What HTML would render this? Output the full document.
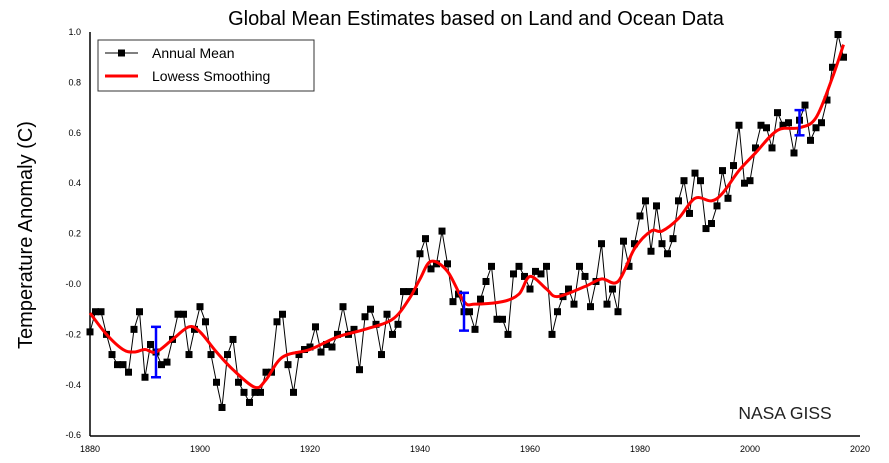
<!DOCTYPE html>
<html><head><meta charset="utf-8"><style>
body{margin:0;background:#fff}
svg{display:block;font-family:"Liberation Sans",sans-serif}
</style></head><body>
<svg id="c" width="889" height="463">
<text x="476" y="25" text-anchor="middle" font-size="20">Global Mean Estimates based on Land and Ocean Data</text>
<text transform="translate(32,235) rotate(-90)" text-anchor="middle" font-size="20">Temperature Anomaly (C)</text>
<text x="785" y="419" text-anchor="middle" font-size="17.5" fill="#222">NASA GISS</text>
<g id="axes"></g>
<g id="marks"></g>
<g>
<rect x="98" y="40" width="216" height="51" fill="#fff" stroke="#333" stroke-width="1"/>
<g>
<line x1="105" y1="53" x2="138" y2="53" stroke="#000"/><rect x="118" y="49.5" width="7" height="7" fill="#000"/>
<text x="152" y="58" font-size="14">Annual Mean</text></g>
<g>
<line x1="105" y1="76" x2="138" y2="76" stroke="#f00" stroke-width="3"/>
<text x="152" y="81" font-size="14">Lowess Smoothing</text></g>
</g>
</svg>
<script>
const years=[];for(let y=1880;y<=2017;y++)years.push(y);
const annualMean=[-0.19,-0.11,-0.11,-0.20,-0.28,-0.32,-0.32,-0.35,-0.18,-0.11,-0.37,-0.24,-0.27,-0.32,-0.31,-0.22,-0.12,-0.12,-0.28,-0.18,
-0.09,-0.15,-0.28,-0.39,-0.49,-0.28,-0.22,-0.39,-0.43,-0.47,-0.43,-0.43,-0.35,-0.35,-0.15,-0.12,-0.32,-0.43,-0.28,-0.26,
-0.25,-0.17,-0.27,-0.24,-0.25,-0.20,-0.09,-0.20,-0.18,-0.34,-0.13,-0.10,-0.16,-0.28,-0.12,-0.20,-0.16,-0.03,-0.03,-0.03,
0.12,0.18,0.06,0.08,0.21,0.08,-0.07,-0.04,-0.11,-0.11,-0.18,-0.06,0.01,0.07,-0.14,-0.14,-0.20,0.04,0.07,0.03,
-0.02,0.05,0.04,0.07,-0.20,-0.11,-0.05,-0.02,-0.08,0.07,0.03,-0.09,0.01,0.16,-0.08,-0.02,-0.11,0.17,0.07,0.16,
0.27,0.33,0.13,0.31,0.16,0.12,0.18,0.33,0.41,0.28,0.44,0.41,0.22,0.24,0.31,0.45,0.34,0.47,0.63,0.40,
0.41,0.54,0.63,0.62,0.54,0.68,0.63,0.64,0.52,0.65,0.71,0.57,0.62,0.64,0.73,0.86,0.99,0.90];
const lowessYears=[1880,1883,1886,1888,1890,1892,1895,1898,1900,1903,1906,1910,1912,1915,1920,1925,1930,1935,1938,1940,1942,1945,1948,1950,1955,1958,1960,1963,1965,1970,1973,1976,1979,1982,1984,1987,1990,1993,1995,1998,2001,2005,2009,2012,2015,2017];
const lowessVals=[-0.115,-0.2,-0.26,-0.27,-0.26,-0.27,-0.22,-0.17,-0.19,-0.27,-0.34,-0.41,-0.38,-0.29,-0.26,-0.21,-0.18,-0.14,-0.06,0.02,0.09,0.05,-0.07,-0.08,-0.07,-0.04,0.03,-0.02,-0.05,-0.01,0.02,0.01,0.14,0.21,0.21,0.26,0.34,0.33,0.36,0.45,0.52,0.61,0.62,0.66,0.82,0.95];
const errYears=[1892,1948,2009];
const errCenters=[-0.27,-0.11,0.64];
const errHalf=[0.10,0.075,0.05];
const yTicks=[1.0,0.8,0.6,0.4,0.2,0.0,-0.2,-0.4,-0.6];
const yTickLabels=["1.0","0.8","0.6","0.4","0.2","-0.0","-0.2","-0.4","-0.6"];
const xTicks=[1880,1900,1920,1940,1960,1980,2000,2020];

const X=y=>90+(y-1880)*5.5;
const Y=v=>284-v*252;
const NS="http://www.w3.org/2000/svg";
function mk(t,a,p){const e=document.createElementNS(NS,t);for(const k in a)e.setAttribute(k,a[k]);p.appendChild(e);return e;}
const ax=document.getElementById('axes'),mg=document.getElementById('marks');
const yl=mk('line',{x1:90,y1:32,x2:90,y2:436,stroke:'#000','stroke-width':1.5},ax);


const xl=mk('line',{x1:90,y1:436,x2:860,y2:436,stroke:'#000','stroke-width':1.5},ax);


yTicks.forEach((v,i)=>{const t=mk('text',{x:81,y:Y(v)+3,'text-anchor':'end','font-size':9},ax);t.textContent=yTickLabels[i];

});
xTicks.forEach(v=>{const t=mk('text',{x:X(v),y:452,'text-anchor':'middle','font-size':9},ax);t.textContent=v;

});
const pl=mk('polyline',{points:years.map((y,i)=>X(y)+','+Y(annualMean[i])).join(' '),fill:'none',stroke:'#000','stroke-width':1},mg);


years.forEach((y,i)=>{const r=mk('rect',{x:X(y)-3.5,y:Y(annualMean[i])-3.5,width:7,height:7,fill:'#000'},mg);

});
const P=lowessYears.map((y,i)=>[X(y),Y(lowessVals[i])]);
let d='M'+P[0];
for(let i=0;i<P.length-1;i++){const p0=P[Math.max(i-1,0)],p1=P[i],p2=P[i+1],p3=P[Math.min(i+2,P.length-1)];
d+=' C'+(p1[0]+(p2[0]-p0[0])/6)+','+(p1[1]+(p2[1]-p0[1])/6)+' '+(p2[0]-(p3[0]-p1[0])/6)+','+(p2[1]-(p3[1]-p1[1])/6)+' '+p2[0]+','+p2[1];}
const lw=mk('path',{d:d,fill:'none',stroke:'#f00','stroke-width':3},mg);


errYears.forEach((y,i)=>{const g=mk('g',{stroke:'#00f','stroke-width':2.5},mg);


const x=X(y),t=Y(errCenters[i]+errHalf[i]),b=Y(errCenters[i]-errHalf[i]);
mk('line',{x1:x,y1:t,x2:x,y2:b},g);mk('line',{x1:x-5,y1:t,x2:x+5,y2:t},g);mk('line',{x1:x-5,y1:b,x2:x+5,y2:b},g);});
</script>
</body></html>
